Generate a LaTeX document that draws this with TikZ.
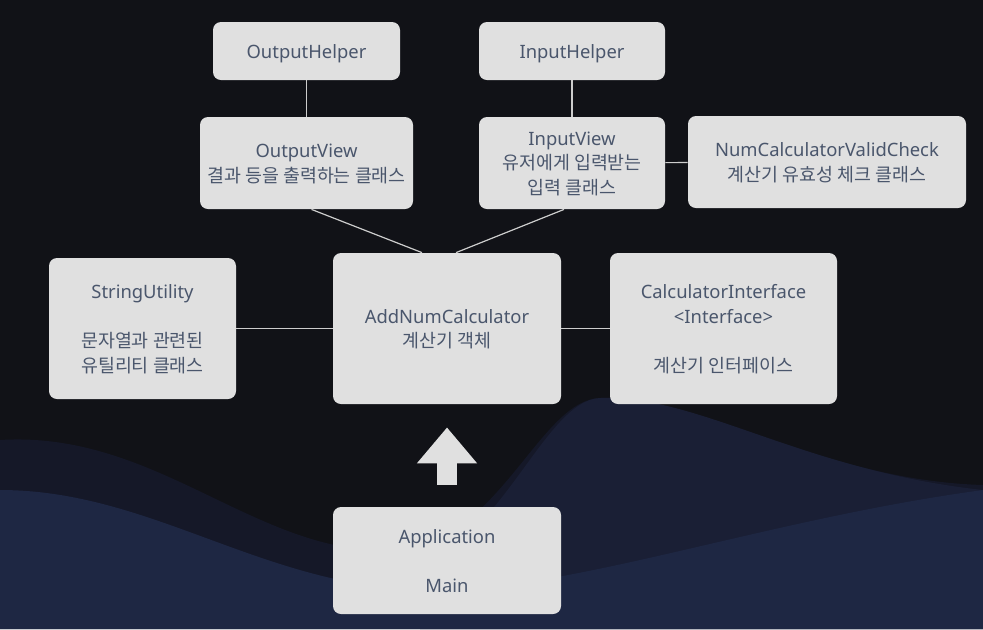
\documentclass[tikz,border=0pt]{standalone}
\usepackage{fontspec}
\setmainfont{Noto Sans}
\newfontfamily\krfont{Noto Sans CJK KR}
\usetikzlibrary{arrows.meta}
\definecolor{bgdark}{HTML}{111217}
\definecolor{wavea}{HTML}{151828}
\definecolor{waveh}{HTML}{1A1F35}
\definecolor{waveb}{HTML}{1E2743}
\definecolor{boxfill}{HTML}{E0E0E0}
\definecolor{boxtext}{HTML}{4A566C}
\definecolor{linkcol}{HTML}{CDCDCD}

\begin{document}
\begin{tikzpicture}[x=.5pt, y=-.5pt,
    box/.style={fill=boxfill, rounded corners=4pt, text=boxtext, align=center,
      font=\fontsize{9.2}{12.25}\selectfont, inner sep=0pt, text depth=-.8pt},
    link/.style={draw=linkcol, line width=.6pt}]
      \useasboundingbox (0,0) rectangle (983,629);
      \fill[bgdark] (0,0) rectangle (983,629);
      \fill[wavea] (0,440) .. controls (160,430) and (260,560) .. (400,550) .. controls (500,540) and (540,400) .. (600,398) .. controls (700,395) and (820,480) .. (983,485) -- (983,629) -- (0,629) -- cycle;
      \fill[waveh] (420,560) .. controls (500,545) and (545,400) .. (600,398) .. controls (700,395) and (800,470) .. (983,490) -- (983,629) -- (420,629) -- cycle;
      \fill[waveb] (0,490) .. controls (150,490) and (260,585) .. (420,590) .. controls (560,595) and (760,520) .. (983,490) -- (983,629) -- (0,629) -- cycle;
      \node (OH) at (306.5,51) [box, minimum width=93.5pt, minimum height=29pt] {OutputHelper};
      \node (IH) at (572,51) [box, minimum width=93pt, minimum height=29pt] {InputHelper};
      \node (OV) at (306.5,163) [box, minimum width=106.5pt, minimum height=46pt] {OutputView\\{\krfont 결과 등을 출력하는 클래스}};
      \node (IV) at (572,163) [box, minimum width=93pt, minimum height=46pt] {InputView\\{\krfont 유저에게 입력받는}\\{\krfont 입력 클래스}};
      \node (NC) at (827,162) [box, minimum width=139pt, minimum height=46pt] {NumCalculatorValidCheck\\{\krfont 계산기 유효성 체크 클래스}};
      \node (SU) at (142.5,328.5) [box, minimum width=93.5pt, minimum height=70.5pt] {StringUtility\\[12.25pt]{\krfont 문자열과 관련된}\\{\krfont 유틸리티 클래스}};
      \node (AN) at (447,328.5) [box, minimum width=114pt, minimum height=75.5pt] {AddNumCalculator\\{\krfont 계산기 객체}};
      \node (CI) at (723.5,328.5) [box, minimum width=113.5pt, minimum height=75.5pt] {CalculatorInterface\\<Interface>\\[12.25pt]{\krfont 계산기 인터페이스}};
      \node (AP) at (447,560.5) [box, minimum width=114pt, minimum height=53.5pt] {Application\\[12.25pt]Main};
      \draw[link] (OH) to (OV);
      \draw[link] (IH) to (IV);
      \draw[link] ([xshift=2.5pt]OV.south) to ([xshift=-12.5pt]AN.north);
      \draw[link] ([xshift=-4pt]IV.south) to ([xshift=4.5pt]AN.north);
      \draw[link] (IV) to (NC);
      \draw[link] (SU) to (AN) to (CI);
      \draw[boxfill, line width=10pt, -{Triangle[width=29pt, length=18pt]}] ([yshift=11pt]AP.north) to ([yshift=-11.5pt]AN.south);
    \end{tikzpicture}
\end{document}
